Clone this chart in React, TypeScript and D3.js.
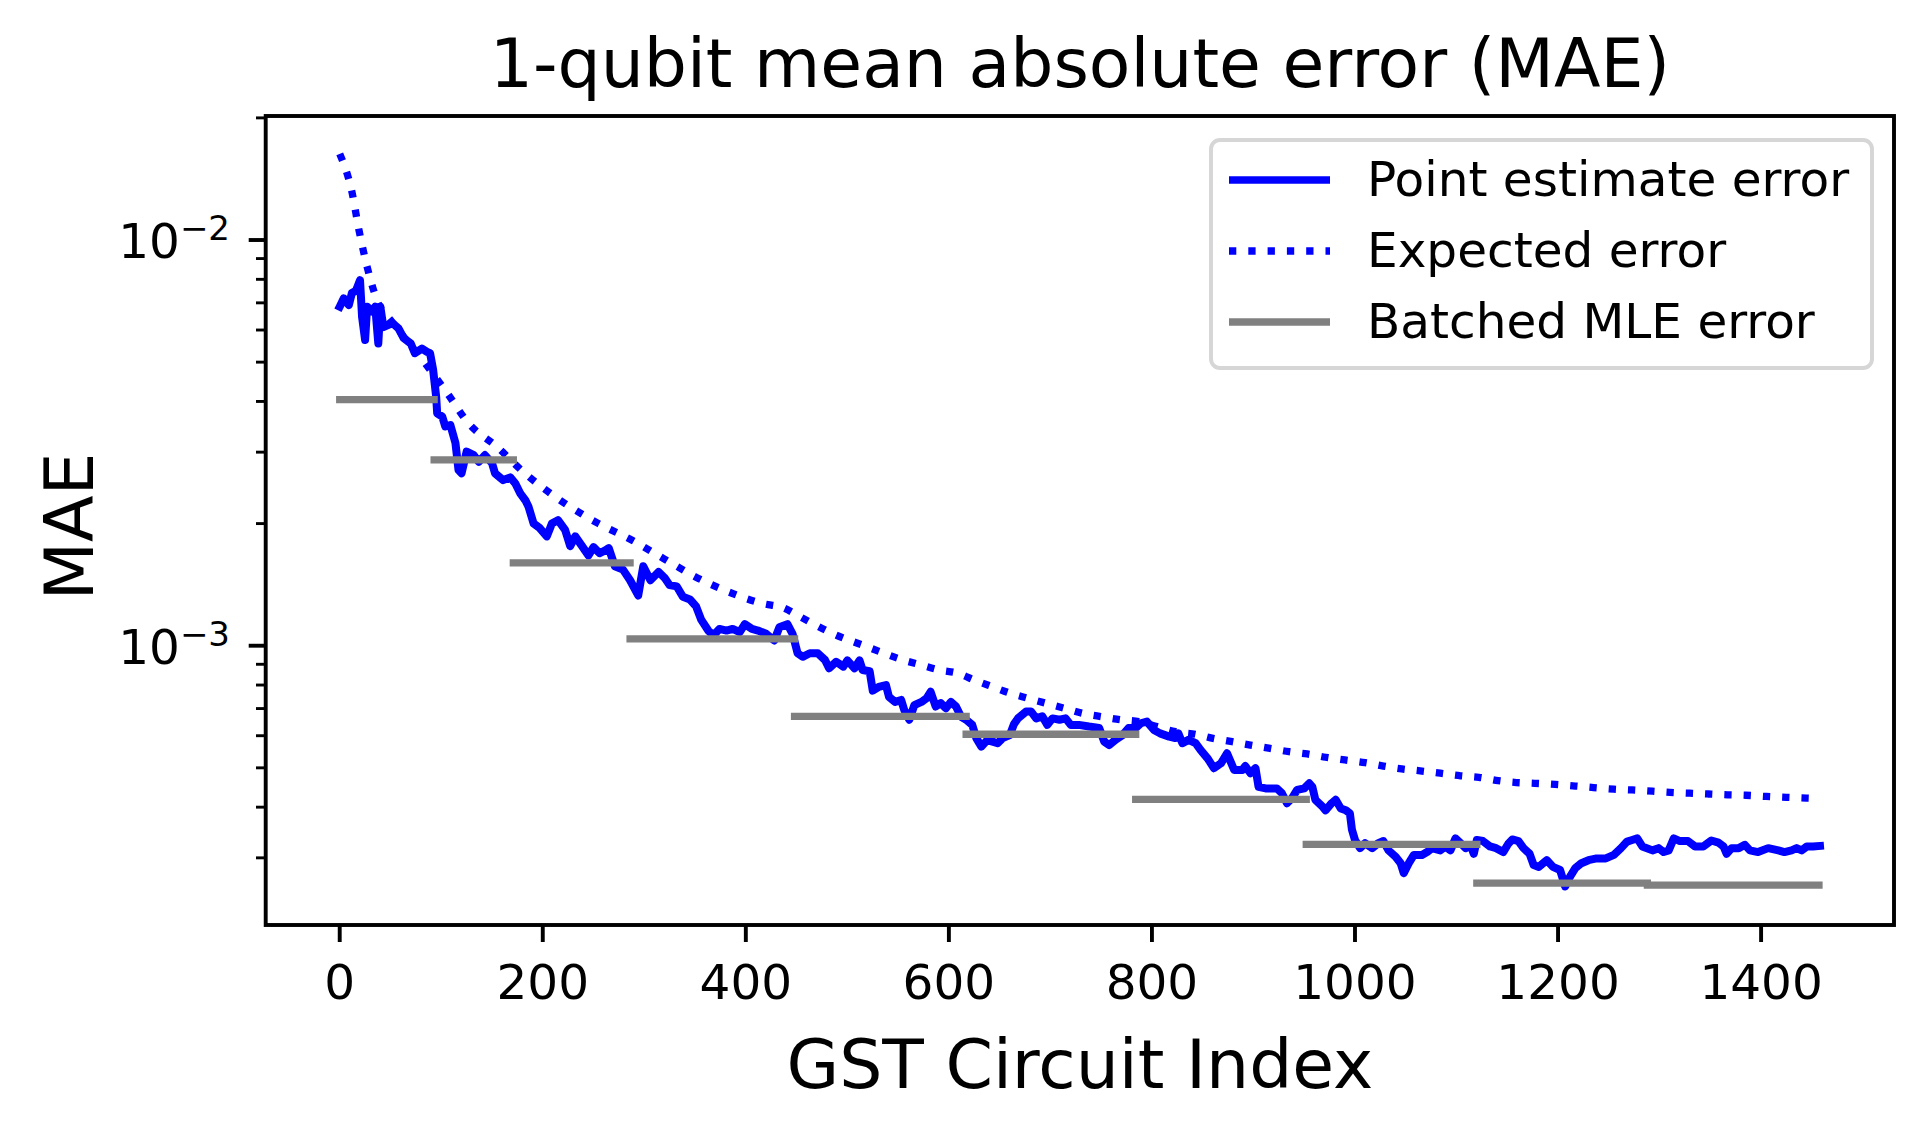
import React from "react";
import * as d3 from "d3";

// point estimate error
const pointIdx = [
  0, 4, 9, 12, 16, 20, 22, 25, 27, 32, 35, 38, 40, 43, 52, 58, 63, 70, 74, 81,
  86, 89, 92, 95, 96, 101, 104, 109, 114, 117, 120, 125, 132, 137, 143, 150,
  153, 161, 168, 173, 178, 183, 186, 191, 197, 204, 209, 215, 222, 227, 232,
  238, 245, 250, 256, 262, 265, 271, 279, 286, 294, 299, 306, 314, 320, 325,
  332, 338, 345, 351, 356, 363, 368, 374, 381, 387, 394, 399, 406, 412, 420,
  428, 433, 441, 446, 451, 456, 463, 471, 478, 482, 489, 496, 500, 507, 512,
  515, 522, 525, 531, 538, 541, 547, 553, 556, 561, 566, 573, 578, 582, 587,
  592, 597, 602, 607, 612, 617, 623, 627, 632, 638, 643, 648, 653, 660, 664,
  668, 676, 681, 686, 692, 697, 702, 709, 715, 720, 728, 738, 748, 753, 758,
  764, 771, 777, 784, 789, 795, 802, 808, 817, 823, 826, 830, 836, 843, 848,
  855, 861, 868, 874, 881, 889, 892, 897, 902, 905, 912, 918, 923, 928, 933,
  938, 943, 950, 955, 958, 961, 968, 971, 977, 981, 986, 991, 995, 997, 1000,
  1005, 1010, 1017, 1023, 1028, 1033, 1040, 1045, 1048, 1053, 1058, 1066,
  1071, 1076, 1084, 1089, 1094, 1099, 1104, 1109, 1114, 1117, 1120, 1126,
  1133, 1139, 1146, 1151, 1155, 1161, 1166, 1172, 1176, 1181, 1189, 1195,
  1202, 1207, 1212, 1217, 1223, 1230, 1238, 1247, 1255, 1262, 1268, 1273,
  1278, 1283, 1293, 1299, 1304, 1309, 1314, 1320, 1328, 1335, 1343, 1351,
  1358, 1363, 1366, 1371, 1378, 1384, 1389, 1397, 1407, 1417, 1423, 1430,
  1435, 1440, 1445, 1451, 1458,
];
const pointMae = [
  0.00685, 0.00718, 0.00691, 0.0074, 0.0075, 0.00796, 0.00647, 0.00567,
  0.00685, 0.00666, 0.00685, 0.00556, 0.00685, 0.0061, 0.00624, 0.00605,
  0.00573, 0.00556, 0.00526, 0.0054, 0.0053, 0.00526, 0.00479, 0.00411,
  0.00374, 0.00367, 0.00347, 0.0035, 0.00316, 0.00271, 0.00266, 0.00301,
  0.00295, 0.00284, 0.00295, 0.00282, 0.00266, 0.00256, 0.0026, 0.00251,
  0.00237, 0.00228, 0.0022, 0.002, 0.00195, 0.00186, 0.002, 0.00204, 0.00193,
  0.00176, 0.00186, 0.00177, 0.00167, 0.00175, 0.00169, 0.00172, 0.00174,
  0.00157, 0.00154, 0.00145, 0.00133, 0.00157, 0.00145, 0.00152, 0.00147,
  0.00141, 0.0014, 0.00132, 0.0013, 0.00125, 0.00116, 0.00109, 0.00106,
  0.0011, 0.00109, 0.0011, 0.00108, 0.00113, 0.0011, 0.00109, 0.00107,
  0.00103, 0.00111, 0.00113, 0.00107, 0.000958, 0.000939, 0.000958, 0.000958,
  0.000922, 0.00088, 0.000913, 0.000888, 0.00092, 0.00088, 0.00092, 0.000871,
  0.000865, 0.000775, 0.000792, 0.0008, 0.000748, 0.000727, 0.000735,
  0.000695, 0.000657, 0.000714, 0.000727, 0.000742, 0.00077, 0.000708,
  0.000722, 0.000701, 0.000727, 0.000708, 0.000668, 0.000657, 0.000638,
  0.000592, 0.000564, 0.000586, 0.00058, 0.000575, 0.000592, 0.000602,
  0.00064, 0.000662, 0.000688, 0.000688, 0.000662, 0.00067, 0.000638,
  0.000662, 0.000657, 0.000662, 0.000638, 0.000638, 0.000632, 0.000627,
  0.00058, 0.000569, 0.000586, 0.000602, 0.000627, 0.000627, 0.000644,
  0.00065, 0.00062, 0.000608, 0.000597, 0.000592, 0.000608, 0.000575,
  0.000586, 0.000575, 0.000553, 0.000527, 0.000499, 0.000513, 0.000543,
  0.000494, 0.000494, 0.000505, 0.000485, 0.000499, 0.000449, 0.000445,
  0.000445, 0.000445, 0.000433, 0.000409, 0.000421, 0.000441, 0.000445,
  0.000458, 0.000449, 0.000417, 0.000401, 0.000393, 0.000409, 0.000417,
  0.000397, 0.000393, 0.000386, 0.000352, 0.000332, 0.000317, 0.000326,
  0.000317, 0.000326, 0.00033, 0.000313, 0.000302, 0.000291, 0.000275,
  0.000291, 0.000305, 0.000305, 0.00031, 0.000317, 0.000313, 0.00032,
  0.000313, 0.000335, 0.000326, 0.000317, 0.000322, 0.000307, 0.000332,
  0.00033, 0.00032, 0.000317, 0.00031, 0.000325, 0.000333, 0.00033, 0.000317,
  0.000307, 0.000288, 0.000285, 0.000296, 0.000285, 0.00028, 0.000255,
  0.00027, 0.000283, 0.000291, 0.000296, 0.000299, 0.000299, 0.000305,
  0.000317, 0.000329, 0.000332, 0.000335, 0.00032, 0.000313, 0.000317,
  0.00031, 0.000313, 0.000335, 0.00033, 0.00033, 0.00032, 0.00032, 0.000331,
  0.000327, 0.00032, 0.000307, 0.000317, 0.000317, 0.000323, 0.000313,
  0.00031, 0.000317, 0.000313, 0.00031, 0.000313, 0.000317, 0.000313,
  0.00032, 0.00032, 0.000321,
];

// expected error (dotted)
const expectedIdx = [
  0, 12, 19, 27, 38, 50, 84, 106, 127, 155, 181, 210, 240, 255, 288, 319, 350,
  382, 417, 437, 453, 486, 519, 555, 573, 591, 609, 625, 643, 661, 678, 696,
  714, 732, 751, 769, 787, 805, 823, 843, 859, 879, 897, 915, 935, 953, 971,
  990, 1010, 1028, 1046, 1066, 1084, 1104, 1122, 1141, 1159, 1177, 1197, 1217,
  1235, 1255, 1273, 1293, 1310, 1330, 1348, 1367, 1385, 1405, 1425, 1445, 1458,
];
const expectedMae = [
  0.0163, 0.01315, 0.01057, 0.00859, 0.00698, 0.00635, 0.00497, 0.00419,
  0.00353, 0.00309, 0.00268, 0.00235, 0.0021, 0.002, 0.00182, 0.00164,
  0.00148, 0.00136, 0.00127, 0.00124, 0.00118, 0.00107, 0.000995, 0.000922,
  0.000896, 0.000871, 0.000855, 0.000823, 0.000792, 0.000763, 0.000742,
  0.000721, 0.000701, 0.000681, 0.000668, 0.000657, 0.00065, 0.000632,
  0.000614, 0.000605, 0.000592, 0.00058, 0.000569, 0.000559, 0.000548,
  0.000541, 0.000531, 0.000523, 0.000515, 0.000505, 0.000497, 0.000491,
  0.000485, 0.000478, 0.000474, 0.000465, 0.00046, 0.000458, 0.000455,
  0.000451, 0.000447, 0.000443, 0.000441, 0.000438, 0.000435, 0.000433,
  0.000431, 0.000429, 0.000428, 0.000425, 0.000423, 0.000421, 0.00042,
];

// batched MLE error, one flat segment per batch
const batchStart = [0, 93, 171, 286, 448, 617, 784, 952, 1120, 1288];
const batchEnd = [93, 171, 286, 448, 617, 784, 952, 1120, 1288, 1457];
const batchMae = [
  0.00404, 0.00287, 0.0016, 0.00104, 0.00067, 0.000605, 0.000418, 0.000324,
  0.00026, 0.000257,
];

const xTicks = [0, 200, 400, 600, 800, 1000, 1200, 1400];
const yDecades = [-3, -2];

const legendItems = [
  { label: "Point estimate error", color: "#0000ff", dash: null },
  { label: "Expected error", color: "#0000ff", dash: "7.3 12" },
  { label: "Batched MLE error", color: "#808080", dash: null },
];

const FONT = "DejaVu Sans";
const W = 1928;
const H = 1126;
const L = 265.7,
  R = 1894,
  T = 116,
  B = 925;

export default function App() {
  const x = d3.scaleLinear().domain([-72.9, 1530.9]).range([L, R]);
  const y = d3.scaleLog().domain([2.0493e-4, 0.020215]).range([B, T]);

  const pointLine = d3
    .line<number>()
    .x((d, i) => x(pointIdx[i]))
    .y((d) => y(d));
  const expectedLine = d3
    .line<number>()
    .x((d, i) => x(expectedIdx[i]))
    .y((d) => y(d))
    .curve(d3.curveMonotoneX);

  // minor ticks of the log axis inside the domain
  const [ylo, yhi] = y.domain();
  const minor: number[] = [];
  for (let d = -4; d <= -2; d++) {
    for (let k = 2; k <= 9; k++) {
      const v = k * Math.pow(10, d);
      if (v >= ylo && v <= yhi) minor.push(v);
    }
  }

  return (
    <svg
      width={W}
      height={H}
      style={{ position: "absolute", left: 0, top: 0, display: "block" }}
      fontFamily={FONT}
    >
      <rect x={0} y={0} width={W} height={H} fill="#ffffff" />
      <defs>
        <clipPath id="plotArea">
          <rect x={L} y={T} width={R - L} height={B - T} />
        </clipPath>
      </defs>

      <g clipPath="url(#plotArea)">
        <path
          d={pointLine(pointMae) || ""}
          fill="none"
          stroke="#0000ff"
          strokeWidth={8}
          strokeLinejoin="round"
          strokeLinecap="square"
        />
        <path
          d={expectedLine(expectedMae) || ""}
          fill="none"
          stroke="#0000ff"
          strokeWidth={7.3}
          strokeDasharray="7.3 12"
          strokeLinecap="butt"
        />
        {batchMae.map((v, i) => (
          <line
            key={i}
            x1={x(batchStart[i])}
            x2={x(batchEnd[i])}
            y1={y(v)}
            y2={y(v)}
            stroke="#808080"
            strokeWidth={7.3}
            strokeLinecap="square"
          />
        ))}
      </g>

      {/* y minor ticks */}
      {minor.map((v, i) => (
        <line
          key={"m" + i}
          x1={L - 9.7}
          x2={L}
          y1={y(v)}
          y2={y(v)}
          stroke="#000"
          strokeWidth={2.9}
        />
      ))}
      {/* y major ticks */}
      {yDecades.map((d) => {
        const py = y(Math.pow(10, d));
        return (
          <g key={"y" + d}>
            <line x1={L - 17} x2={L} y1={py} y2={py} stroke="#000" strokeWidth={3.9} />
            <text x={230} y={py + 18} textAnchor="end" fontSize={48.5} fill="#000">
              <tspan>10</tspan>
              <tspan dy={-17.7} fontSize={34}>
                {"\u2212" + Math.abs(d)}
              </tspan>
            </text>
          </g>
        );
      })}
      {/* x ticks */}
      {xTicks.map((t) => (
        <g key={"x" + t}>
          <line x1={x(t)} x2={x(t)} y1={B} y2={B + 17} stroke="#000" strokeWidth={3.9} />
          <text x={x(t)} y={999} textAnchor="middle" fontSize={48.5} fill="#000">
            {t}
          </text>
        </g>
      ))}

      {/* spines */}
      <rect
        x={L}
        y={T}
        width={R - L}
        height={B - T}
        fill="none"
        stroke="#000"
        strokeWidth={3.9}
        strokeLinejoin="miter"
      />

      {/* legend */}
      <g>
        <rect
          x={1211}
          y={140}
          width={661}
          height={228}
          rx={9}
          fill="#ffffff"
          fillOpacity={0.8}
          stroke="#d6d6d6"
          strokeWidth={3.9}
        />
        {legendItems.map((it, i) => {
          const ly = 180 + i * 71;
          return (
            <g key={it.label}>
              <line
                x1={1229}
                x2={1330}
                y1={ly}
                y2={ly}
                stroke={it.color}
                strokeWidth={7.3}
                strokeDasharray={it.dash || undefined}
              />
              <text x={1367} y={ly + 16} fontSize={48.5} fill="#000">
                {it.label}
              </text>
            </g>
          );
        })}
      </g>

      {/* title and axis labels */}
      <text x={(L + R) / 2} y={87} textAnchor="middle" fontSize={68} fill="#000">
        1-qubit mean absolute error (MAE)
      </text>
      <text x={(L + R) / 2} y={1088} textAnchor="middle" fontSize={68} fill="#000">
        GST Circuit Index
      </text>
      <text
        transform={`translate(93, ${(T + B) / 2 + 6}) rotate(-90)`}
        textAnchor="middle"
        fontSize={68}
        fill="#000"
      >
        MAE
      </text>
    </svg>
  );
}
